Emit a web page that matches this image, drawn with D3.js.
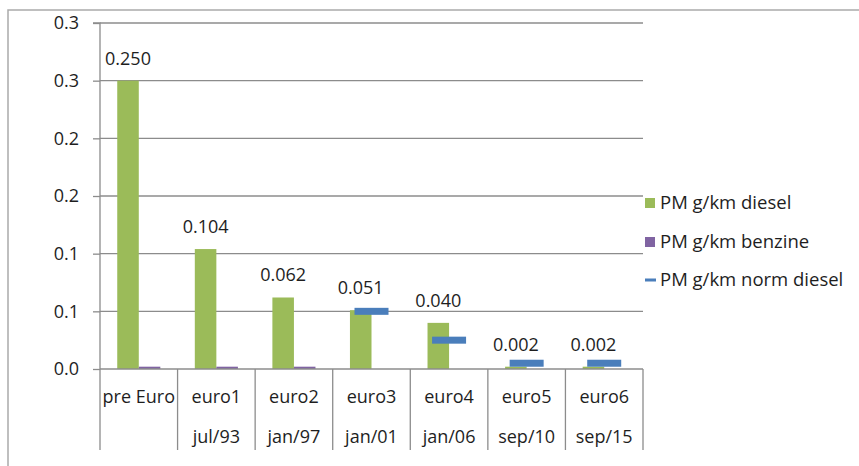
<!DOCTYPE html>
<html><head><meta charset="utf-8">
<script src="https://cdn.jsdelivr.net/npm/d3@7"></script>
<style>body{margin:0;background:#fff}svg text{font-family:"Open Sans",sans-serif;fill:#1e1e1e}</style>
</head><body>
<svg id="c" width="859" height="466"></svg>
<script>
const categories = ["pre Euro","euro1","euro2","euro3","euro4","euro5","euro6"];
const subLabels = ["","jul/93","jan/97","jan/01","jan/06","sep/10","sep/15"];
const diesel = [0.250,0.104,0.062,0.051,0.040,0.002,0.002];
const benzine = [0.002,0.002,0.002,0,0,0,0];
const normDiesel = [null,null,null,0.050,0.025,0.005,0.005];
const tickValues = [0,0.05,0.10,0.15,0.20,0.25,0.30];
const tickLabels = ["0.0","0.1","0.1","0.2","0.2","0.3","0.3"];
const seriesNames = ["PM g/km diesel","PM g/km benzine","PM g/km norm diesel"];
const colors = ["#9bbb59","#8064a2","#4a7ebb"];

const svg = d3.select("#c");
const L=100,R=643,T=23,B=369;
svg.append("rect").attr("x",8).attr("y",10).attr("width",900).attr("height",500)
  .attr("fill","none").attr("stroke","#aaa").attr("stroke-width",1.5);

const y = d3.scaleLinear().domain([0,0.3]).range([B,T]);
const x = d3.scaleBand().domain(categories).range([L,R]);
const xs = d3.scaleBand().domain(["d","b"]).range([0,x.bandwidth()]).paddingOuter(0.8).paddingInner(0);

// gridlines
svg.append("g").selectAll("line").data(tickValues.slice(1)).join("line")
  .attr("x1",L).attr("x2",R).attr("y1",d=>y(d)).attr("y2",d=>y(d))
  .attr("stroke","#8c8c8c").attr("stroke-width",1.3);

// y axis
const yAxis = d3.axisLeft(y).tickValues(tickValues).tickSize(7).tickPadding(14)
  .tickFormat((d,i)=>tickLabels[i]);
const ya = svg.append("g").attr("transform",`translate(${L},0)`).call(yAxis);
ya.select(".domain").attr("stroke","#8c8c8c").attr("stroke-width",1.3).attr("d",`M-7,${T}H0V${B}`);
ya.selectAll(".tick line").attr("stroke","#8c8c8c").attr("stroke-width",1.3);
ya.selectAll(".tick text").style("font-size","18px").attr("fill","#1e1e1e");

// bars
svg.append("g").selectAll("rect").data(diesel).join("rect")
  .attr("x",(d,i)=>x(categories[i])+xs("d")).attr("width",xs.bandwidth())
  .attr("y",d=>y(d)).attr("height",d=>B-y(d)).attr("fill",colors[0]);
svg.append("g").selectAll("rect").data(benzine).join("rect")
  .attr("x",(d,i)=>x(categories[i])+xs("b")).attr("width",xs.bandwidth())
  .attr("y",d=>y(d)).attr("height",d=>B-y(d)).attr("fill",colors[1]);

// data labels
svg.append("g").selectAll("text").data(diesel).join("text")
  .attr("x",(d,i)=>x(categories[i])+xs("d")+xs.bandwidth()/2)
  .attr("y",d=>y(d)-16).attr("text-anchor","middle").style("font-size","18px")
  .text(d=>d3.format(".3f")(d));

// norm markers
svg.append("g").selectAll("rect").data(normDiesel.map((v,i)=>({v,i})).filter(d=>d.v!=null)).join("rect")
  .attr("x",d=>x(categories[d.i])+x.bandwidth()/2-17).attr("width",34)
  .attr("y",d=>y(d.v)-3.5).attr("height",7).attr("fill",colors[2]);

// x axis
svg.append("line").attr("x1",L).attr("x2",R).attr("y1",B).attr("y2",B)
  .attr("stroke","#8c8c8c").attr("stroke-width",1.3);
const bounds = categories.map(c=>x(c)).concat([R]);
svg.append("g").selectAll("line").data(bounds).join("line")
  .attr("x1",d=>d).attr("x2",d=>d).attr("y1",B).attr("y2",450)
  .attr("stroke","#8c8c8c").attr("stroke-width",1.3);
svg.append("g").selectAll("text").data(categories).join("text")
  .attr("x",d=>x(d)+x.bandwidth()/2).attr("y",403).attr("text-anchor","middle")
  .style("font-size","18px").text(d=>d);
svg.append("g").selectAll("text").data(subLabels).join("text")
  .attr("x",(d,i)=>x(categories[i])+x.bandwidth()/2).attr("y",443).attr("text-anchor","middle")
  .style("font-size","18px").text(d=>d);

// legend
const lg = svg.append("g");
const ly=[203,242,280];
seriesNames.forEach((n,i)=>{
  if(i<2) lg.append("rect").attr("x",645).attr("y",ly[i]-5).attr("width",10).attr("height",10).attr("fill",colors[i]);
  else lg.append("rect").attr("x",645).attr("y",ly[i]-1.5).attr("width",11).attr("height",3).attr("fill",colors[i]);
  lg.append("text").attr("x",660).attr("y",ly[i]+6).style("font-size","18.5px").text(n);
});
</script>
</body></html>
